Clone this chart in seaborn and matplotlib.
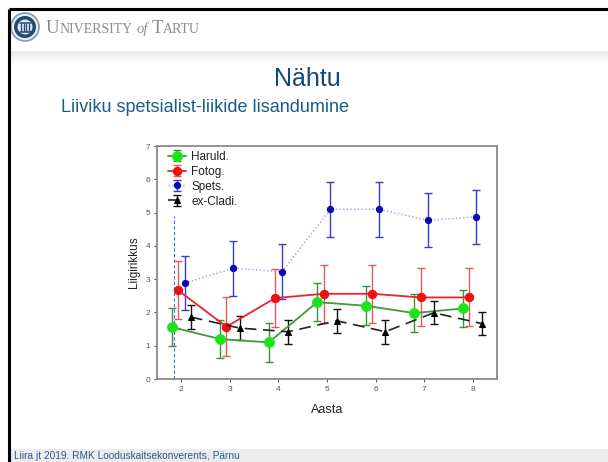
import numpy as np
import pandas as pd
import matplotlib
matplotlib.use("Agg")
import matplotlib.pyplot as plt
import seaborn as sns
from matplotlib.patches import Circle, Rectangle
from matplotlib.legend_handler import HandlerTuple

# ---- data ----
years = [2, 3, 4, 5, 6, 7, 8]
series_names = ["Haruld.", "Fotog.", "Spets.", "ex-Cladi."]
haruld_mean = [1.56, 1.20, 1.10, 2.31, 2.20, 1.98, 2.12]
haruld_err = [0.57, 0.57, 0.58, 0.57, 0.58, 0.56, 0.56]
fotog_mean = [2.67, 1.57, 2.43, 2.56, 2.56, 2.45, 2.45]
fotog_err = [0.87, 0.88, 0.87, 0.87, 0.87, 0.87, 0.87]
spets_mean = [2.88, 3.33, 3.22, 5.10, 5.10, 4.77, 4.87]
spets_err = [0.82, 0.83, 0.83, 0.83, 0.83, 0.81, 0.81]
cladi_mean = [1.86, 1.53, 1.42, 1.75, 1.42, 1.99, 1.66]
cladi_err = [0.36, 0.36, 0.36, 0.36, 0.36, 0.35, 0.35]
y_ticks = [0, 1, 2, 3, 4, 5, 6, 7]
x_label = "Aasta"
y_label = "Liigirikkus"

means = [haruld_mean, fotog_mean, spets_mean, cladi_mean]
errs = [haruld_err, fotog_err, spets_err, cladi_err]

rows = []
for name, m, e in zip(series_names, means, errs):
    for yr, mv, ev in zip(years, m, e):
        rows.append({"series": name, "year": yr, "mean": mv, "err": ev})
df = pd.DataFrame(rows)

# ---- styles ----
offsets = {"Haruld.": -0.2, "Fotog.": -0.07, "Spets.": 0.07, "ex-Cladi.": 0.2}
styles = {
    "Haruld.": dict(line="#3f9a3f", marker_c="#19e619", ecolor="#3f8f3f", ls="-",
                    lw=1.3, marker="o", ms=7),
    "Fotog.": dict(line="#e8242c", marker_c="#ee1111", ecolor="#e85a5e", ls="-",
                   lw=1.3, marker="o", ms=6),
    "Spets.": dict(line="#9a9aff", marker_c="#0a0ab0", ecolor="#3a3acc", ls=":",
                   lw=1.0, marker="o", ms=4.5),
    "ex-Cladi.": dict(line="#222222", marker_c="#000000", ecolor="#111111", ls=(0, (7, 4)),
                      lw=1.2, marker="^", ms=4.5),
}

sns.set_style("white")
plt.rcParams["font.family"] = ["Liberation Sans", "DejaVu Sans"]

W, H = 608, 462
fig = plt.figure(figsize=(W / 100, H / 100), dpi=100)
fig.patch.set_facecolor("white")
renderer = fig.canvas.get_renderer()

# ---- slide decorations ----
deco = fig.add_axes([0, 0, 1, 1])
deco.set_xlim(0, W)
deco.set_ylim(H, 0)
deco.axis("off")
deco.plot([9, W], [9, 9], color="black", lw=2.2, solid_capstyle="butt")
deco.plot([9, 9], [9, H], color="black", lw=2.2, solid_capstyle="butt")
for i in range(12):
    a = 0.55 * (1 - i / 12)
    deco.add_patch(Rectangle((10, 51 + i), W - 10, 1, color="#d8d8d8", alpha=a, lw=0))
deco.add_patch(Rectangle((10, 449), W - 10, 13, color="#ececec", lw=0))
# logo
cx, cy = 25, 27
deco.add_patch(Circle((cx, cy), 14, facecolor="#e8eef3", edgecolor="#7f9bb2", lw=1.2))
deco.add_patch(Circle((cx, cy), 11, facecolor="#1f4a72", edgecolor="none"))
deco.add_patch(Circle((cx, cy), 7.5, facecolor="#dfe6ee", edgecolor="none"))
for dx in [-4, -1.3, 1.3, 4]:
    deco.plot([cx + dx, cx + dx], [cy - 3, cy + 4], color="#1f4a72", lw=0.9)
deco.plot([cx - 5.5, cx + 5.5], [cy - 4, cy - 4], color="#1f4a72", lw=1.1)
deco.plot([cx - 5.5, cx + 5.5], [cy + 4.5, cy + 4.5], color="#1f4a72", lw=1.1)

# header wordmark (small caps)
x = 46
base = 33
pieces = [("U", 13.5, "normal"), ("NIVERSITY", 10, "normal"), (" ", 10, "normal"),
          ("of", 10.5, "italic"), (" ", 10, "normal"), ("T", 13.5, "normal"), ("ARTU", 10, "normal")]
for txt, fs, stl in pieces:
    t = deco.text(x, base, txt, fontsize=fs, family="Liberation Serif", color="#8c8c8c",
                  va="baseline", ha="left", style=stl)
    bb = t.get_window_extent(renderer=renderer)
    x += bb.width

# titles
deco.text(307, 86, "Nähtu", fontsize=18, color="#124a78", ha="center", va="baseline")
deco.text(61, 112, "Liiviku spetsialist-liikide lisandumine", fontsize=13, color="#1a5a8c",
          ha="left", va="baseline")
deco.text(14, 459, "Liira jt 2019. RMK Looduskaitsekonverents, Pärnu", fontsize=7.3,
          color="#2a5d8f", ha="left", va="baseline")

# ---- chart ----
ax = fig.add_axes([157 / W, 83 / H, 340 / W, 233 / H])
ax.set_facecolor("white")

ax.vlines(1.85, 0, 4.9, colors="#3a6fd0", linestyles=(0, (3, 2)), lw=0.8, zorder=1)

handles = []
for name in series_names:
    st = styles[name]
    sub = df[df["series"] == name].copy()
    sub["xpos"] = sub["year"] + offsets[name]
    n_before = len(ax.lines)
    sns.lineplot(data=sub, x="xpos", y="mean", ax=ax, color=st["line"], lw=st["lw"],
                 linestyle=st["ls"], marker=st["marker"], markersize=st["ms"],
                 markerfacecolor=st["marker_c"], markeredgecolor=st["marker_c"],
                 legend=False, errorbar=None, zorder=3)
    line = ax.lines[n_before]
    eb = ax.errorbar(sub["xpos"], sub["mean"], yerr=sub["err"], fmt="none",
                     ecolor=st["ecolor"], elinewidth=1.0, capsize=2.8, capthick=1.0, zorder=2)
    handles.append((eb, line))

ax.set_xlim(1.5, 8.5)
ax.set_ylim(0, 7)
ax.set_xticks(years)
ax.set_yticks(y_ticks)
ax.set_xlabel(x_label, fontsize=9, color="#222222", labelpad=8)
ax.set_ylabel(y_label, fontsize=8.5, color="#222222", labelpad=4)
ax.tick_params(axis="both", labelsize=6, colors="#555555", length=2, width=0.8,
               direction="out", pad=3, bottom=True, left=True)
for sp in ax.spines.values():
    sp.set_color("#8a8a8a")
    sp.set_linewidth(1.3)
    sp.set_visible(True)

leg = ax.legend(handles, series_names, handler_map={tuple: HandlerTuple(ndivide=1)},
                loc="upper left", bbox_to_anchor=(0.025, 0.99), frameon=False,
                fontsize=8.5, handlelength=1.5, handletextpad=0.5, labelspacing=0.25,
                borderaxespad=0, borderpad=0.2)
for t in leg.get_texts():
    t.set_color("#222222")

fig.savefig("out.png", dpi=100)
